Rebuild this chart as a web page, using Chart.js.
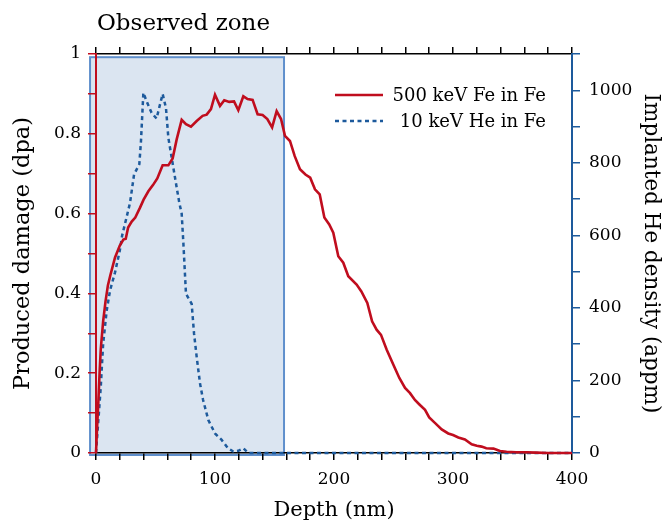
<!DOCTYPE html>
<html>
<head>
<meta charset="utf-8">
<script src="https://cdn.jsdelivr.net/npm/chart.js@4/dist/chart.umd.min.js"></script>
<style>
  html, body { margin: 0; padding: 0; background: #fff; }
  #wrap { width: 664px; height: 521px; }
</style>
</head>
<body>
<div id="wrap"><canvas id="damageChart"></canvas></div>
<script>
// 500 keV Fe in Fe : depth (nm) / produced damage (dpa)
const feDepth = [0, 1, 2, 3, 4, 6, 8, 10, 12, 16, 20, 23, 25, 27, 30, 33, 37, 40, 44, 48, 51.5, 56, 60.8, 64.4,
  67.8, 72, 75.6, 79.8, 84.6, 89.6, 93, 96.6, 100, 104.2, 107.8, 112, 116, 119.6, 123.8, 127.4, 131.6, 135.8,
  140, 144, 148, 151.8, 155.5, 158.8, 163, 167, 171.4, 176, 180, 184, 188, 191.9, 196, 199.4, 203.6, 207.8,
  212, 219, 223, 228, 232, 235.8, 239.5, 244.3, 249.9, 254.9, 259.7, 263.9, 268, 272, 276.5, 280, 285, 290.5,
  296, 300, 304.5, 310, 315.7, 320, 324, 328, 334, 339.5, 345, 353, 362, 370, 380, 390, 400];
const feDamage = [0, 0.07, 0.13, 0.2, 0.26, 0.33, 0.38, 0.42, 0.445, 0.49, 0.52, 0.535, 0.537, 0.565, 0.58, 0.59,
  0.615, 0.635, 0.656, 0.672, 0.688, 0.721, 0.721, 0.738, 0.786, 0.835, 0.824, 0.818, 0.832, 0.845, 0.848, 0.862,
  0.898, 0.87, 0.884, 0.88, 0.881, 0.859, 0.894, 0.887, 0.885, 0.849, 0.847, 0.837, 0.816, 0.857, 0.837, 0.795,
  0.782, 0.744, 0.711, 0.698, 0.69, 0.661, 0.648, 0.59, 0.573, 0.552, 0.493, 0.477, 0.443, 0.422, 0.405, 0.376,
  0.33, 0.309, 0.296, 0.259, 0.221, 0.188, 0.163, 0.15, 0.133, 0.121, 0.108, 0.089, 0.075, 0.059, 0.049, 0.045,
  0.039, 0.034, 0.022, 0.018, 0.016, 0.012, 0.011, 0.005, 0.003, 0.002, 0.002, 0.001, 0, 0, 0];

// 10 keV He in Fe : depth (nm) / implanted He density (appm)
const heDepth = [0, 2, 4, 6, 9, 11.8, 16, 20, 22, 26, 28.6, 32, 36.4, 37.8, 39.8, 42.5, 46.7, 50.9, 53.8, 56,
  58.8, 60.8, 63.6, 67.8, 70, 72, 73.4, 75.6, 80.4, 82.4, 84.6, 87.4, 90, 94.4, 100, 105.6, 111, 115.4, 119.6,
  123.8, 128, 200, 300, 400];
const heDensity = [0, 91, 182, 301, 393, 448, 498, 558, 600, 654, 690, 768, 796, 860, 993, 970, 938, 922, 961, 990,
  951, 869, 814, 732, 690, 660, 580, 439, 411, 329, 265, 192, 146, 91, 54, 36, 13, 4, 6, 13, 0, 0, 0, 0];

// observed zone (nm / dpa)
const zoneDepth = [-5, 158];
const zoneDamage = [-0.005, 0.992];

const seriesNames = ['500 keV Fe in Fe', '10 keV He in Fe'];
const redColor = '#c00d1e';
const blueColor = '#1d5a9c';
const fontFamily = "'DejaVu Serif', serif";

const toPoints = (xs, ys) => xs.map((x, i) => ({ x: x, y: ys[i] }));

/** Shaded observed zone, drawn behind the axes. */
const zonePlugin = {
  id: 'zone',
  beforeDraw(chart) {
    const ctx = chart.ctx;
    const xs = chart.scales.x;
    const ys = chart.scales.y;
    const x0 = xs.getPixelForValue(zoneDepth[0]);
    const x1 = xs.getPixelForValue(zoneDepth[1]);
    const y0 = ys.getPixelForValue(zoneDamage[1]);
    const y1 = ys.getPixelForValue(zoneDamage[0]);
    ctx.save();
    ctx.fillStyle = '#dbe5f1';
    ctx.fillRect(x0, y0, x1 - x0, y1 - y0);
    ctx.strokeStyle = '#5f8fcc';
    ctx.lineWidth = 2;
    ctx.strokeRect(x0, y0, x1 - x0, y1 - y0);
    ctx.restore();
  }
};

/** Title and legend. */
const textPlugin = {
  id: 'texts',
  afterDraw(chart) {
    const ctx = chart.ctx;
    const area = chart.chartArea;
    ctx.save();
    ctx.fillStyle = '#000';
    ctx.font = '23px ' + fontFamily;
    ctx.textBaseline = 'alphabetic';
    ctx.textAlign = 'left';
    ctx.fillText('Observed zone', area.left + 1, 30);

    // legend
    const lx0 = area.left + 239, lx1 = area.left + 287, tx = area.left + 450;
    const rows = [area.top + 41, area.top + 67];
    ctx.lineWidth = 2.5;
    ctx.strokeStyle = redColor;
    ctx.beginPath(); ctx.moveTo(lx0, rows[0]); ctx.lineTo(lx1, rows[0]); ctx.stroke();
    ctx.strokeStyle = blueColor;
    ctx.setLineDash([4, 3.5]);
    ctx.beginPath(); ctx.moveTo(lx0, rows[1]); ctx.lineTo(lx1, rows[1]); ctx.stroke();
    ctx.setLineDash([]);
    ctx.font = '18px ' + fontFamily;
    ctx.textAlign = 'right';
    ctx.textBaseline = 'middle';
    ctx.fillText(seriesNames[0], tx, rows[0] + 1);
    ctx.fillText(seriesNames[1], tx, rows[1] + 1);
    ctx.restore();
  }
};

const tickFont = { family: fontFamily, size: 17 };

new Chart(document.getElementById('damageChart').getContext('2d'), {
  type: 'line',
  data: {
    datasets: [{
      label: seriesNames[0],
      data: toPoints(feDepth, feDamage),
      yAxisID: 'y',
      borderColor: redColor,
      borderWidth: 2.6,
      pointRadius: 0,
      tension: 0,
      clip: false
    }, {
      label: seriesNames[1],
      data: toPoints(heDepth, heDensity),
      yAxisID: 'y2',
      borderColor: blueColor,
      borderWidth: 2.5,
      borderDash: [4, 3.5],
      pointRadius: 0,
      tension: 0,
      clip: false
    }]
  },
  options: {
    responsive: true,
    maintainAspectRatio: false,
    animation: false,
    layout: { padding: 0 },
    plugins: { legend: { display: false }, tooltip: { enabled: false } },
    scales: {
      x: {
        type: 'linear', position: 'bottom', min: 0, max: 400,
        afterFit: s => { s.height = 68; },
        ticks: { stepSize: 20, autoSkip: false, maxRotation: 0, color: '#000', font: tickFont, padding: 9,
          callback: v => (v % 100 === 0 ? v : '') },
        grid: { drawOnChartArea: false, color: '#000', tickLength: 7, lineWidth: 1.5 },
        border: { color: '#000', width: 1.5 },
        title: { display: true, text: 'Depth (nm)', color: '#000',
          font: { family: fontFamily, size: 21, lineHeight: 1 }, padding: 0 }
      },
      xTop: {
        type: 'linear', position: 'top', min: 0, max: 400,
        afterFit: s => { s.height = 54; },
        ticks: { stepSize: 20, autoSkip: false, callback: () => '' },
        grid: { drawOnChartArea: false, color: '#000', tickLength: 7, lineWidth: 1.5 },
        border: { color: '#000', width: 1.5 }
      },
      y: {
        position: 'left', min: 0, max: 1,
        afterFit: s => { s.width = 96; },
        ticks: { stepSize: 0.1, autoSkip: false, color: '#000', font: tickFont, padding: 7,
          callback: v => (Math.round(v * 10) % 2 === 0 ? Number(v.toFixed(1)) : '') },
        grid: { drawOnChartArea: false, color: redColor, tickLength: 8, lineWidth: 1.5 },
        border: { color: redColor, width: 2 },
        title: { display: true, text: 'Produced damage (dpa)', color: '#000',
          font: { family: fontFamily, size: 22.5 }, padding: { top: 10 } }
      },
      y2: {
        position: 'right', min: 0, max: 1100,
        afterFit: s => { s.width = 92; },
        ticks: { stepSize: 100, autoSkip: false, color: '#000', font: tickFont, padding: 9,
          callback: v => (v % 200 === 0 ? v : '') },
        grid: { drawOnChartArea: false, color: blueColor, tickLength: 8, lineWidth: 1.5 },
        border: { color: blueColor, width: 2 },
        title: { display: true, text: 'Implanted He density (appm)', color: '#000',
          font: { family: fontFamily, size: 21.5 }, padding: { top: 1 } }
      }
    }
  },
  plugins: [zonePlugin, textPlugin]
});
</script>
</body>
</html>
